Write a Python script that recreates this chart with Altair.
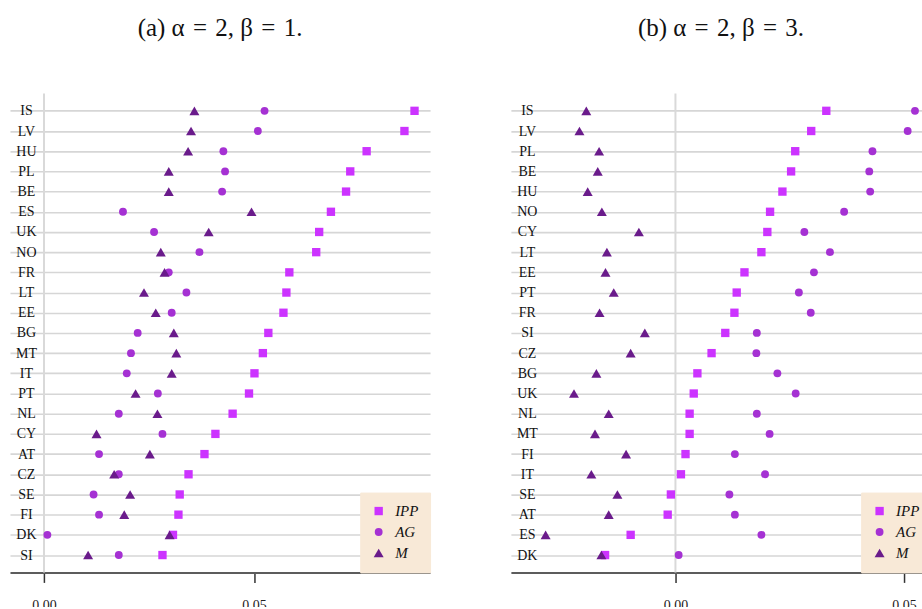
import altair as alt
import pandas as pd

# Series shown in each panel (legend order)
series = ["IPP", "AG", "M"]
series_colors = ["#cc33ff", "#a531d3", "#6a1b8b"]
series_shapes = ["square", "circle", "triangle-up"]
series_sizes = [70, 62, 100]

# Panel (a): alpha = 2, beta = 1
countries_a = ["IS", "LV", "HU", "PL", "BE", "ES", "UK", "NO", "FR", "LT", "EE", "BG",
               "MT", "IT", "PT", "NL", "CY", "AT", "CZ", "SE", "FI", "DK", "SI"]
ipp_a = [0.0882, 0.0858, 0.0768, 0.0729, 0.0719, 0.0683, 0.0655, 0.0648, 0.0584, 0.0577,
         0.0570, 0.0534, 0.0521, 0.0501, 0.0488, 0.0449, 0.0408, 0.0382, 0.0344, 0.0323,
         0.0320, 0.0307, 0.0282]
ag_a = [0.0525, 0.0509, 0.0427, 0.0431, 0.0424, 0.0188, 0.0262, 0.0370, 0.0297, 0.0339,
        0.0304, 0.0223, 0.0207, 0.0197, 0.0271, 0.0178, 0.0282, 0.0131, 0.0178, 0.0118,
        0.0131, 0.0008, 0.0178]
m_a = [0.0358, 0.0350, 0.0343, 0.0297, 0.0297, 0.0494, 0.0392, 0.0278, 0.0287, 0.0238,
       0.0266, 0.0309, 0.0315, 0.0304, 0.0218, 0.0270, 0.0125, 0.0252, 0.0167, 0.0205,
       0.0191, 0.0299, 0.0105]

# Panel (b): alpha = 2, beta = 3
countries_b = ["IS", "LV", "PL", "BE", "HU", "NO", "CY", "LT", "EE", "PT", "FR", "SI",
               "CZ", "BG", "UK", "NL", "MT", "FI", "IT", "SE", "AT", "ES", "DK"]
ipp_b = [0.0330, 0.0297, 0.0262, 0.0253, 0.0234, 0.0207, 0.0201, 0.0188, 0.0151, 0.0134,
         0.0129, 0.0109, 0.0079, 0.0048, 0.0040, 0.0031, 0.0031, 0.0022, 0.0012, -0.0010,
         -0.0017, -0.0098, -0.0154]
ag_b = [0.0524, 0.0508, 0.0431, 0.0424, 0.0426, 0.0369, 0.0282, 0.0338, 0.0303, 0.0270,
        0.0296, 0.0178, 0.0177, 0.0223, 0.0263, 0.0178, 0.0206, 0.0130, 0.0196, 0.0118,
        0.0130, 0.0188, 0.0007]
m_b = [-0.0195, -0.0210, -0.0167, -0.0170, -0.0192, -0.0161, -0.0080, -0.0150, -0.0153,
       -0.0135, -0.0166, -0.0067, -0.0098, -0.0173, -0.0222, -0.0146, -0.0176, -0.0108,
       -0.0184, -0.0127, -0.0146, -0.0284, -0.0162]

SERIF = "Liberation Serif"
EQ = "\u2004=\u2004"


def long_table(countries, ipp, ag, m):
    rows = []
    for name, vals in zip(series, [ipp, ag, m]):
        for c, v in zip(countries, vals):
            rows.append({"country": c, "series": name, "value": v})
    return pd.DataFrame(rows)


def panel(countries, ipp, ag, m, domain, title):
    xscale = alt.Scale(domain=domain, nice=False, zero=False)
    x_axis = alt.Axis(values=[0.0, 0.05], format=".2f", grid=False, domain=True,
                      domainColor="#5c5c5c", domainWidth=2, ticks=True, tickColor="#333333",
                      tickSize=10, tickWidth=1.5, labelPadding=16, labelFont=SERIF,
                      labelFontSize=14, labelColor="#222222", title=None)
    y_axis = alt.Axis(domain=False, ticks=False, tickSize=0, grid=True, gridColor="#d6d6d6",
                      gridWidth=1.6, labelAlign="center", labelBaseline="middle",
                      labelPadding=-16, labelFont=SERIF, labelFontSize=14,
                      labelColor="#111111", title=None)

    zero_line = alt.Chart(pd.DataFrame({"value": [0.0]})).mark_rule(
        color="#d9d9d9", strokeWidth=2
    ).encode(x=alt.X("value:Q", scale=xscale, axis=x_axis))

    points = alt.Chart(long_table(countries, ipp, ag, m)).mark_point(
        filled=True, opacity=1, strokeWidth=0
    ).encode(
        x=alt.X("value:Q", scale=xscale, axis=x_axis),
        y=alt.Y("country:N", sort=countries, scale=alt.Scale(type="point", padding=0.86),
                axis=y_axis),
        color=alt.Color("series:N", scale=alt.Scale(domain=series, range=series_colors),
                        sort=series, title=None,
                        legend=alt.Legend(orient="bottom-right", offset=0)),
        shape=alt.Shape("series:N", scale=alt.Scale(domain=series, range=series_shapes),
                        sort=series, title=None,
                        legend=alt.Legend(orient="bottom-right", offset=0)),
        size=alt.Size("series:N",
                      scale=alt.Scale(type="ordinal", domain=series, range=series_sizes),
                      legend=None),
    )

    return alt.layer(zero_line, points).properties(
        width=421, height=480,
        title=alt.TitleParams(title, font=SERIF, fontSize=25, fontWeight="normal",
                              color="#111111", anchor="middle", offset=52),
    )


left = panel(countries_a, ipp_a, ag_a, m_a, [-0.0081, 0.0919], f"(a) α{EQ}2, β{EQ}1.")
right = panel(countries_b, ipp_b, ag_b, m_b, [-0.0360, 0.0559], f"(b) α{EQ}2, β{EQ}3.")

# The right panel runs past the page edge, so the outer padding trims it.
chart = alt.hconcat(left, right, spacing=80).resolve_scale(
    x="independent", y="independent", color="independent", shape="independent",
    size="independent"
).properties(
    padding={"left": 10, "top": 15, "right": -10, "bottom": -6},
    background="white",
).configure_view(stroke=None).configure_legend(
    fillColor="#f8e9d7", strokeColor="#f8e9d7", padding=11, rowPadding=5,
    symbolSize=50, symbolStrokeWidth=0, labelFont=SERIF, labelFontStyle="italic",
    labelFontSize=15, labelColor="#111111", labelOffset=9, cornerRadius=0
)

chart.save("out.html", embed_options={"renderer": "svg", "actions": False})
